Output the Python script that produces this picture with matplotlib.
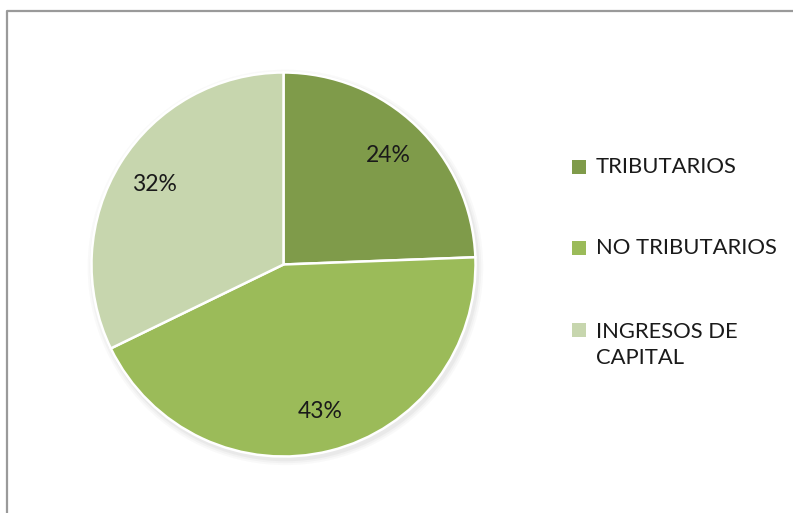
import matplotlib
matplotlib.use("Agg")
import matplotlib.pyplot as plt
from matplotlib.patches import Rectangle, Circle
from matplotlib.lines import Line2D

# Data
labels = ["TRIBUTARIOS", "NO TRIBUTARIOS", "INGRESOS DE\nCAPITAL"]
values = [24.4, 43.4, 32.2]
colors = ["#7F9B4A", "#9BBB59", "#C7D6AE"]

plt.rcParams["font.family"] = ["Lato", "DejaVu Sans"]

W, H = 793, 513
fig = plt.figure(figsize=(W / 100, H / 100), dpi=100)
fig.patch.set_facecolor("white")

# pie axes: centre (283.5, 264.5) px, radius 192 px
cx, cy, r = 283.5, 264.5, 192
ax = fig.add_axes([(cx - r) / W, (H - cy - r) / H, 2 * r / W, 2 * r / H])
ax.set_xlim(-1, 1)
ax.set_ylim(-1, 1)
ax.set_aspect("equal")
ax.axis("off")

# soft shadow under the pie
for i, a in enumerate([0.04, 0.05, 0.07]):
    ax.add_patch(Circle((0.01, -0.015), 1.0 + 0.01 * (3 - i), color="#7f7f7f",
                        alpha=a, lw=0, zorder=0, clip_on=False))

wedges, texts, autotexts = ax.pie(
    values, colors=colors, startangle=90, counterclock=False, radius=1.0,
    autopct="%.0f%%", pctdistance=0.79,
    wedgeprops=dict(edgecolor="white", linewidth=1.8),
    textprops=dict(fontsize=16.5, color="#1a1a1a", family=["Lato", "DejaVu Sans"]))
ax.set_xlim(-1, 1)
ax.set_ylim(-1, 1)

# legend drawn by hand to match layout
leg_y = [167, 248, 330]
for lab, col, yy in zip(labels, colors, leg_y):
    fig.patches.append(Rectangle((572 / W, (H - yy - 7) / H), 14 / W, 14 / H,
                                 transform=fig.transFigure, facecolor=col,
                                 edgecolor="none"))
    ty = yy + 15 if "\n" in lab else yy
    fig.text(596 / W, (H - ty) / H, lab, fontsize=15.8, color="#1a1a1a",
             va="center", ha="left", linespacing=1.4)

# chart-area border (left and top only visible)
fig.lines.append(Line2D([6.5 / W, 6.5 / W, 1.0], [0.0, 1 - 10.5 / H, 1 - 10.5 / H],
                        transform=fig.transFigure, color="#9a9a9a", lw=1.6))

fig.savefig("out.png", dpi=100, facecolor="white")
